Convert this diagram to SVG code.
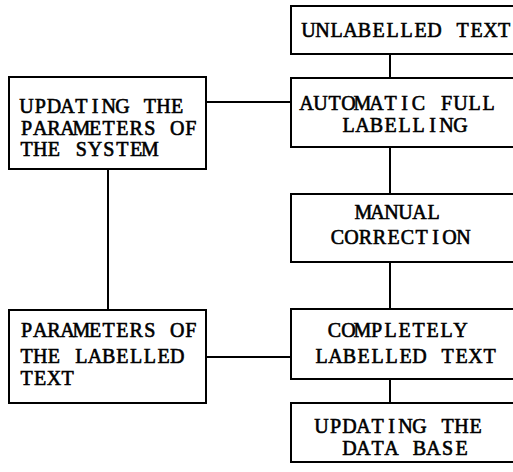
<svg xmlns="http://www.w3.org/2000/svg" width="513" height="472" viewBox="0 0 513 472">
<style>
.box{fill:#fff;stroke:#000;stroke-width:2}
.ln{stroke:#000;stroke-width:2;fill:none}
text{font-family:"Liberation Serif","Times New Roman",serif;font-size:20px;text-anchor:middle;fill:#000;stroke:#000;stroke-width:0.6}
</style>
<rect width="513" height="472" fill="#fff"/>
<g id="connectors">
<line class="ln" x1="390" y1="54" x2="390" y2="78"/>
<line class="ln" x1="390" y1="147" x2="390" y2="194"/>
<line class="ln" x1="390" y1="262" x2="390" y2="309"/>
<line class="ln" x1="390" y1="379" x2="390" y2="403"/>
<line class="ln" x1="206" y1="102" x2="291" y2="102"/>
<line class="ln" x1="206" y1="357" x2="291" y2="357"/>
<line class="ln" x1="108" y1="169" x2="108" y2="310"/>
</g>
<g id="unlabelled">
<rect class="box" x="291" y="6" width="240" height="48"/>
<text x="308.5 322.5 336.5 350.5 364.5 378.5 392.5 406.5 420.5 434.5 448.5 462.5 476.5 490.5 504" y="37">UNLABELLED TEXT</text>
</g>
<g id="automatic">
<rect class="box" x="291" y="78" width="240" height="69"/>
<text x="306.5 320.5 334.5 348.5 362.5 376.5 390.5 404.5 418.5 432.5 446.5 460.5 474.5 488.5" y="110">AUTOMATIC FULL</text>
<text x="348.5 362.5 376.5 390.5 404.5 418.5 432.5 446.5 460.5" y="132">LABELLING</text>
</g>
<g id="manual">
<rect class="box" x="291" y="194" width="240" height="68"/>
<text x="363.5 377.5 391.5 405.5 419.5 433.5" y="219">MANUAL</text>
<text x="337.5 351.5 365.5 379.5 393.5 407.5 421.5 435.5 449.5 463.5" y="244">CORRECTION</text>
</g>
<g id="completely">
<rect class="box" x="291" y="309" width="240" height="70"/>
<text x="334.5 348.5 362.5 376.5 390.5 404.5 418.5 432.5 446.5 460.5" y="337">COMPLETELY</text>
<text x="321.5 335.5 349.5 363.5 377.5 391.5 405.5 419.5 433.5 447.5 461.5 475.5 489.5" y="363">LABELLED TEXT</text>
</g>
<g id="database">
<rect class="box" x="291" y="403" width="240" height="59"/>
<text x="321.5 335.5 349.5 363.5 377.5 391.5 405.5 419.5 433.5 447.5 461.5 475.5" y="433">UPDATING THE</text>
<text x="349.5 363.5 377.5 391.5 405.5 419.5 433.5 447.5 461.5" y="455">DATA BASE</text>
</g>
<g id="updparams">
<rect class="box" x="9" y="77" width="197" height="92"/>
<text x="26.5 40.2 53.9 67.6 81.3 95 108.7 122.4 136.1 149.8 163.5 177.2" y="113">UPDATING THE</text>
<text x="26.5 40.2 53.9 67.6 81.3 95 108.7 122.4 136.1 149.8 163.5 177.2 190.9" y="135">PARAMETERS OF</text>
<text x="26.5 40.2 53.9 67.6 81.3 95 108.7 122.4 136.1 149.8" y="156">THE SYSTEM</text>
</g>
<g id="params">
<rect class="box" x="9" y="310" width="197" height="93"/>
<text x="26.5 40.2 53.9 67.6 81.3 95 108.7 122.4 136.1 149.8 163.5 177.2 190.9" y="337">PARAMETERS OF</text>
<text x="26.5 40.2 53.9 67.6 81.3 95 108.7 122.4 136.1 149.8 163.5 177.2" y="363">THE LABELLED</text>
<text x="26.5 40.2 53.9 67.6" y="385">TEXT</text>
</g>
</svg>
